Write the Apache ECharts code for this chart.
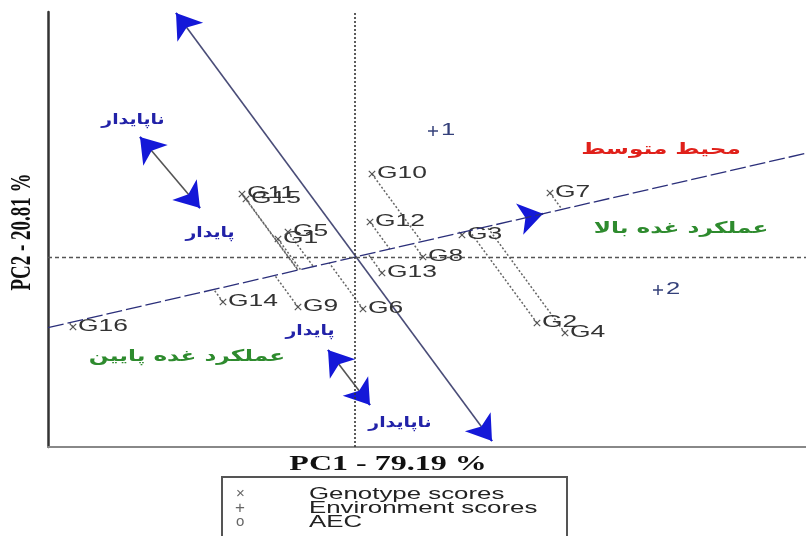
<!DOCTYPE html>
<html>
<head>
<meta charset="utf-8">
<script src="https://cdn.jsdelivr.net/npm/echarts@6/dist/echarts.min.js"></script>
<style>
  html, body { margin: 0; padding: 0; background: #fff; }
  #main { width: 806px; height: 536px; }
</style>
</head>
<body>
<div id="main"></div>
<script>
// genotype scores (PC1, PC2)
const genotypes = ["G1", "G2", "G3", "G4", "G5", "G6", "G7", "G8",
                   "G9", "G10", "G11", "G12", "G13", "G14", "G15", "G16"];
const genoPC1 = [-0.77, 1.82, 1.07, 2.10, -0.67, 0.08, 1.95, 0.68,
                 -0.57, 0.17, -1.13, 0.15, 0.27, -1.32, -1.09, -2.82];
const genoPC2 = [0.18, -0.66, 0.22, -0.76, 0.25, -0.52, 0.64, 0.00,
                 -0.50, 0.83, 0.63, 0.35, -0.16, -0.45, 0.58, -0.70];

// environment scores
const envNames = ["1", "2"];
const envPC1 = [0.78, 3.03];
const envPC2 = [1.26, -0.33];

// average environment coordinate and its axes
const aecPoint = [1.98, 0.45];
const aecSlope = 0.23;      // AEC abscissa
const ordSlope = -1.363;    // AEC ordinate
const ordTop = [-1.79, 2.44];
const ordBottom = [1.37, -1.84];
const aecArrowTip = [1.88, 0.432];

// stability arrows (both ends)
const stabArrows = [
    [[-2.15, 1.20], [-1.55, 0.49]],
    [[-0.27, -0.93], [0.15, -1.48]],
];

const xRange = [-3.07, 4.51];
const yRange = [-1.90, 2.45];

const chart = echarts.init(document.getElementById("main"));

// foot of each genotype on the AEC abscissa, moving along the ordinate direction
const projections = genotypes.map((g, i) => {
    const px = genoPC1[i];
    const py = genoPC2[i];
    const t = (py - aecSlope * px) / (aecSlope - ordSlope);
    return { coords: [[px, py], [px + t, py + ordSlope * t]] };
});

// tiny segments ending at each arrow tip, only used to draw the heads
const arrowHead = (from, to) => {
    const dx = to[0] - from[0];
    const dy = to[1] - from[1];
    return { coords: [[to[0] - dx * 0.03, to[1] - dy * 0.03], to] };
};
const heads = [
    arrowHead(ordBottom, ordTop),
    arrowHead(ordTop, ordBottom),
    arrowHead([0, 0], aecArrowTip),
];
stabArrows.forEach((a) => {
    heads.push(arrowHead(a[1], a[0]));
    heads.push(arrowHead(a[0], a[1]));
});

const labelFont = '16px "Liberation Sans", Arial, sans-serif';

function faText(text, x, y, color, sx, size) {
    return {
        type: "text", x: x, y: y, scaleX: sx, silent: true,
        style: {
            text: text, font: "bold " + size + 'px "DejaVu Sans", sans-serif', fill: color,
            align: "center", verticalAlign: "middle",
            textAlign: "center", textVerticalAlign: "middle",
        },
    };
}

function plainText(text, x, y, font, color, extra) {
    return Object.assign({
        type: "text", x: x, y: y, silent: true,
        style: {
            text: text, font: font, fill: color,
            align: "left", verticalAlign: "middle",
            textAlign: "left", textVerticalAlign: "middle",
        },
    }, extra || {});
}

const option = {
    animation: false,
    backgroundColor: "#fff",
    grid: { left: 48, right: 0, top: 12, bottom: 89 },
    xAxis: {
        type: "value", min: xRange[0], max: xRange[1],
        axisLine: { show: true, onZero: false, lineStyle: { color: "#888", width: 2 } },
        axisTick: { show: false }, axisLabel: { show: false }, splitLine: { show: false },
    },
    yAxis: {
        type: "value", min: yRange[0], max: yRange[1],
        axisLine: { show: true, onZero: false, lineStyle: { color: "#333", width: 2.5 } },
        axisTick: { show: false }, axisLabel: { show: false }, splitLine: { show: false },
    },
    series: [
        {
            // AEC abscissa
            type: "line",
            data: [[xRange[0], aecSlope * xRange[0]], [xRange[1], aecSlope * xRange[1]]],
            symbol: "none",
            lineStyle: { color: "#2b2f7a", width: 1.3, type: [16, 4] },
            silent: true,
            markLine: {
                silent: true, symbol: "none", label: { show: false },
                data: [
                    { xAxis: 0, lineStyle: { type: [2, 2], color: "#333", width: 1.6 } },
                    { yAxis: 0, lineStyle: { type: [4, 3], color: "#555", width: 1.4 } },
                ],
            },
        },
        {
            // AEC ordinate
            type: "lines", coordinateSystem: "cartesian2d", clip: false, silent: true,
            data: [{ coords: [ordTop, ordBottom] }],
            lineStyle: { color: "#4a4d78", width: 1.6, opacity: 1 },
        },
        {
            // stability arrows
            type: "lines", coordinateSystem: "cartesian2d", clip: false, silent: true,
            data: stabArrows.map((a) => ({ coords: a })),
            lineStyle: { color: "#555", width: 1.6, opacity: 1 },
        },
        {
            // projection lines
            type: "lines", coordinateSystem: "cartesian2d", clip: false, silent: true,
            data: projections,
            lineStyle: { color: "#666", width: 1.5, type: [2, 2], opacity: 1 },
        },
        {
            // arrow heads
            type: "lines", coordinateSystem: "cartesian2d", clip: false, silent: true,
            data: heads,
            symbol: ["none", "arrow"], symbolSize: [17, 24],
            lineStyle: { color: "#1418d8", width: 2, opacity: 1 },
        },
        {
            // AEC point
            type: "scatter", data: [aecPoint], symbol: "emptyCircle", symbolSize: 9,
            itemStyle: { color: "#fff", borderColor: "#3340a0", borderWidth: 1.5 },
            silent: true,
        },
        {
            // genotypes
            type: "custom", silent: true,
            data: genotypes.map((g, i) => [genoPC1[i], genoPC2[i]]),
            renderItem: (params, api) => {
                const p = api.coord([api.value(0), api.value(1)]);
                const s = 3.2;
                const st = { stroke: "#555", lineWidth: 1.2 };
                return {
                    type: "group",
                    children: [
                        { type: "line", shape: { x1: p[0] - s, y1: p[1] - s, x2: p[0] + s, y2: p[1] + s }, style: st },
                        { type: "line", shape: { x1: p[0] - s, y1: p[1] + s, x2: p[0] + s, y2: p[1] - s }, style: st },
                        plainText(genotypes[params.dataIndex], p[0] + 5, p[1], labelFont, "#333", { scaleX: 1.65 }),
                    ],
                };
            },
        },
        {
            // environments
            type: "custom", silent: true,
            data: envNames.map((e, i) => [envPC1[i], envPC2[i]]),
            renderItem: (params, api) => {
                const p = api.coord([api.value(0), api.value(1)]);
                const s = 5;
                const st = { stroke: "#34407a", lineWidth: 1.5 };
                return {
                    type: "group",
                    children: [
                        { type: "line", shape: { x1: p[0] - s, y1: p[1], x2: p[0] + s, y2: p[1] }, style: st },
                        { type: "line", shape: { x1: p[0], y1: p[1] - s, x2: p[0], y2: p[1] + s }, style: st },
                        plainText(envNames[params.dataIndex], p[0] + 8, p[1], labelFont, "#34407a", { scaleX: 1.6 }),
                    ],
                };
            },
        },
    ],
    graphic: [
        faText("ناپایدار", 133, 120, "#2222a8", 1.25, 15),
        faText("پایدار", 210, 233, "#2222a8", 1.25, 15),
        faText("پایدار", 310, 331, "#2222a8", 1.25, 15),
        faText("ناپایدار", 400, 423, "#2222a8", 1.25, 15),
        faText("محیط متوسط", 661, 150, "#e0201a", 1.45, 16),
        faText("عملکرد غده بالا", 681, 229, "#2e8b2e", 1.45, 16),
        faText("عملکرد غده پایین", 187, 357, "#2e8b2e", 1.45, 16),
        {
            type: "text", x: 388, y: 465, scaleX: 1.6, silent: true,
            style: {
                text: "PC1 - 79.19 %", font: 'bold 20px "Liberation Serif", serif', fill: "#111",
                align: "center", verticalAlign: "middle", textAlign: "center", textVerticalAlign: "middle",
            },
        },
        {
            type: "text", x: 22, y: 232, rotation: Math.PI / 2, scaleY: 1.6, silent: true,
            style: {
                text: "PC2 - 20.81 %", font: 'bold 19px "Liberation Serif", serif', fill: "#111",
                align: "center", verticalAlign: "middle", textAlign: "center", textVerticalAlign: "middle",
            },
        },
        {
            type: "rect", silent: true,
            shape: { x: 222, y: 477, width: 345, height: 70 },
            style: { fill: "#fff", stroke: "#555", lineWidth: 2 },
        },
        plainText("×", 236, 494, '15px "Liberation Sans", sans-serif', "#666"),
        plainText("+", 235, 508, '17px "Liberation Sans", sans-serif', "#666"),
        plainText("o", 236, 522, '15px "Liberation Sans", sans-serif', "#666"),
        plainText("Genotype scores", 309, 494, '17px "Liberation Sans", Arial, sans-serif', "#222", { scaleX: 1.52 }),
        plainText("Environment scores", 309, 508, '17px "Liberation Sans", Arial, sans-serif', "#222", { scaleX: 1.52 }),
        plainText("AEC", 309, 522, '17px "Liberation Sans", Arial, sans-serif', "#222", { scaleX: 1.52 }),
    ],
};

chart.setOption(option);
</script>
</body>
</html>
